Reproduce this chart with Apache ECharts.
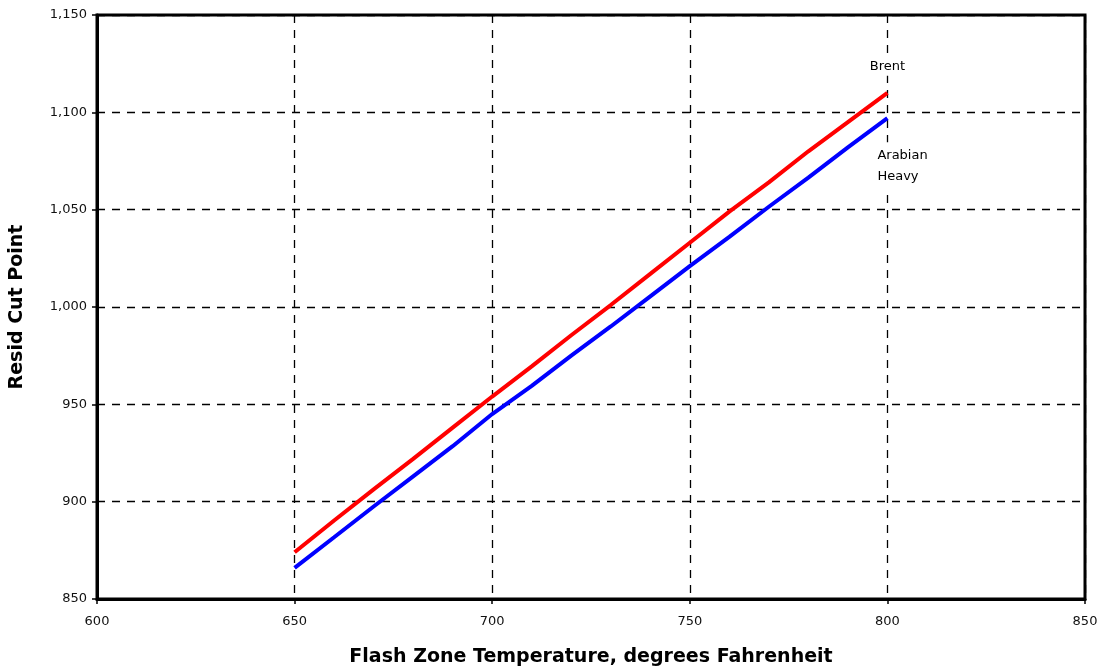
<!DOCTYPE html>
<html>
<head>
<meta charset="utf-8">
<script src="https://cdn.jsdelivr.net/npm/echarts@6/dist/echarts.min.js"></script>
<style>html,body{margin:0;padding:0;background:#fff;}#c{width:1107px;height:666px;}</style>
</head>
<body>
<div id="c"></div>
<script>
var temps = [650, 660, 670, 680, 690, 700, 710, 720, 730, 740, 750, 760, 770, 780, 790, 800];
var brent = [874, 890.3, 906.3, 922, 938, 954, 969.5, 985.5, 1001, 1017, 1033, 1049, 1064, 1080, 1095, 1110];
var arabianHeavy = [866, 881.7, 897.5, 913, 928.5, 945, 959.5, 975, 990, 1005.5, 1021, 1036, 1051.5, 1066.5, 1082, 1097];
var xTicks = [600, 650, 700, 750, 800, 850];
var yTicks = [850, 900, 950, 1000, 1050, 1100, 1150];

function pairs(xs, ys, label) {
  return xs.map(function (x, i) {
    var item = { value: [x, ys[i]] };
    if (i === xs.length - 1 && label) item.label = label;
    return item;
  });
}

var chart = echarts.init(document.getElementById('c'), null, { renderer: 'canvas' });
var fontFam = '"DejaVu Sans", Verdana, sans-serif';
var boldFam = '"DejaVu Sans", Verdana, sans-serif';
chart.setOption({
  animation: false,
  backgroundColor: '#fff',
  grid: { left: 97, right: 22, top: 15, bottom: 67, outerBoundsMode: 'none', containLabel: false,
    show: true, borderColor: '#000', borderWidth: 3, backgroundColor: 'transparent' },
  xAxis: {
    type: 'value', min: xTicks[0], max: xTicks[xTicks.length - 1], interval: 50,
    name: 'Flash Zone Temperature, degrees Fahrenheit', nameLocation: 'middle', nameGap: 49,
    nameTextStyle: { fontFamily: boldFam, fontWeight: 'bold', fontSize: 19, color: '#000' },
    axisLine: { show: true, lineStyle: { color: '#000', width: 3 } },
    axisTick: { show: true, length: 5, lineStyle: { color: '#000', width: 1.5 } },
    axisLabel: { fontFamily: fontFam, fontSize: 13, color: '#111', margin: 16 },
    splitLine: { show: true, lineStyle: { color: '#000', type: [8, 7], width: 1.3 } }
  },
  yAxis: {
    type: 'value', min: yTicks[0], max: yTicks[yTicks.length - 1], interval: 50,
    name: 'Resid Cut Point', nameLocation: 'middle', nameGap: 70, nameRotate: 90,
    nameTextStyle: { fontFamily: boldFam, fontWeight: 'bold', fontSize: 19, color: '#000' },
    axisLine: { show: true, lineStyle: { color: '#000', width: 3 } },
    axisTick: { show: true, length: 5, lineStyle: { color: '#000', width: 1.5 } },
    axisLabel: { fontFamily: fontFam, fontSize: 13, color: '#111', margin: 10,
      formatter: function (v) { return v.toLocaleString('en-US'); } },
    splitLine: { show: true, lineStyle: { color: '#000', type: [8, 7], width: 1.3 } }
  },
  series: [
    {
      name: 'Brent', type: 'line', showSymbol: true, symbol: 'circle', symbolSize: 0,
      lineStyle: { color: '#ff0000', width: 4 }, itemStyle: { color: '#ff0000' },
      data: pairs(temps, brent, { show: true, formatter: 'Brent', position: 'top', distance: 17,
        backgroundColor: '#fff', padding: [3, 2],
        fontFamily: fontFam, fontSize: 13, color: '#000' }),
      z: 3
    },
    {
      name: 'Arabian Heavy', type: 'line', showSymbol: true, symbol: 'circle', symbolSize: 0,
      lineStyle: { color: '#0000ff', width: 4 }, itemStyle: { color: '#0000ff' },
      data: pairs(temps, arabianHeavy, { show: true, formatter: 'Arabian\nHeavy', position: [-12, 24],
        align: 'left', verticalAlign: 'top', lineHeight: 21,
        backgroundColor: '#fff', padding: [3, 2],
        fontFamily: fontFam, fontSize: 13, color: '#000' }),
      z: 3
    }
  ]
});
</script>
</body>
</html>
